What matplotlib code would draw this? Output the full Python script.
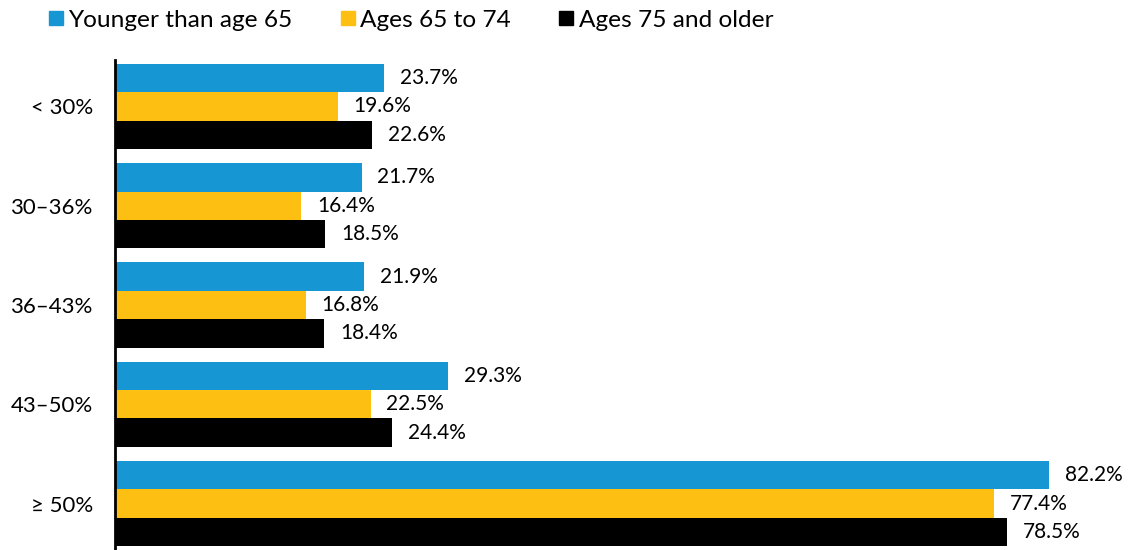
import matplotlib.pyplot as plt
import numpy as np
from matplotlib.lines import Line2D

plt.rcParams['font.family'] = ['Lato', 'DejaVu Sans']

categories = ['< 30%', '30\u201336%', '36\u201343%', '43\u201350%', '\u2265 50%']
series_names = ['Younger than age 65', 'Ages 65 to 74', 'Ages 75 and older']
under_65 = [23.7, 21.7, 21.9, 29.3, 82.2]
age_65_74 = [19.6, 16.4, 16.8, 22.5, 77.4]
age_75_up = [22.6, 18.5, 18.4, 24.4, 78.5]

colors = ['#1696d2', '#fdbf11', '#000000']

fig = plt.figure(figsize=(11.3, 5.5), dpi=100)
ax = fig.add_axes([115 / 1130, 0, 1015 / 1130, 490 / 550])

y = np.arange(len(categories))
offset = 0.287
for i, (vals, col) in enumerate(zip([under_65, age_65_74, age_75_up], colors)):
    pos = y + (i - 1) * offset
    ax.barh(pos, vals, height=offset, color=col, label=series_names[i])
    for p, v in zip(pos, vals):
        ax.text(v + 1.4, p, f'{v:.1f}%', va='center', ha='left', fontsize=15, color='#000000')

ax.set_xlim(0, 89.35)
ax.set_ylim(4.4685, -0.4685)
ax.set_yticks(y)
ax.set_yticklabels(categories, fontsize=16)
ax.tick_params(axis='y', length=0, pad=16)
ax.set_xticks([])
for s in ['top', 'right', 'bottom']:
    ax.spines[s].set_visible(False)
ax.spines['left'].set_linewidth(2)
ax.spines['left'].set_color('#000000')

# legend row across the top, square swatches
handles = [Line2D([], [], marker='s', linestyle='none', markersize=10, color=c) for c in colors]
fig.legend(handles, series_names, loc='center left', bbox_to_anchor=(46 / 1130, 1 - 20 / 550),
           ncol=3, frameon=False, fontsize=17.6, handletextpad=0.1, columnspacing=1.85,
           handlelength=0.82, borderaxespad=0, borderpad=0)

fig.savefig('out.png', dpi=100)
